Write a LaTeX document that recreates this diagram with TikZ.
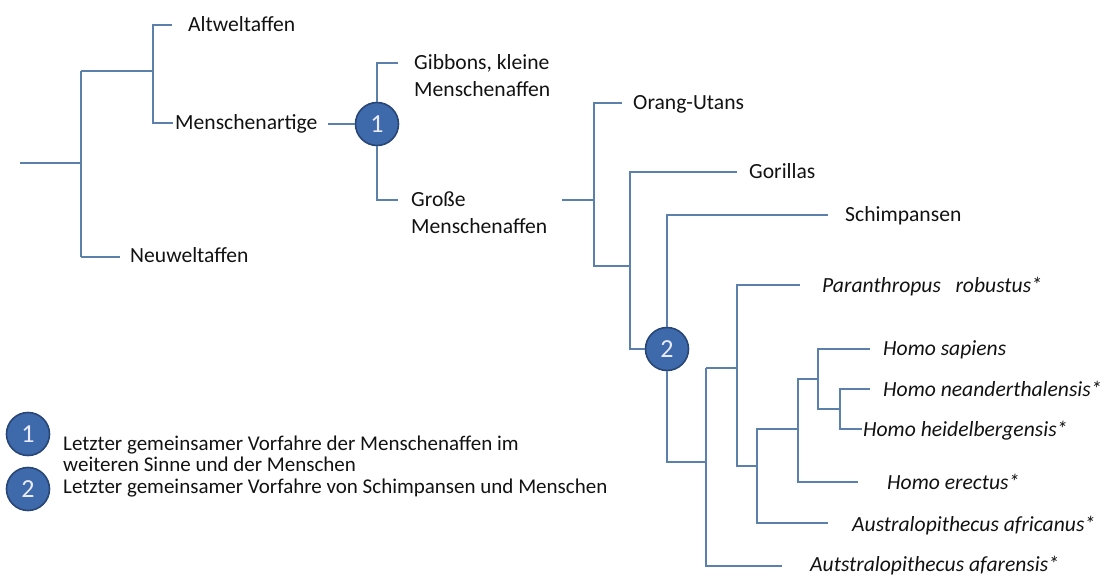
\documentclass[tikz,border=0pt]{standalone}
\usepackage{fontspec}
\setmainfont{Carlito}
\definecolor{brc}{RGB}{92,128,172}
\definecolor{circfill}{RGB}{62,106,172}
\definecolor{circdraw}{RGB}{40,70,118}
\definecolor{txt}{RGB}{18,18,18}
\newcommand\twolines[2]{\begin{tabular}[t]{@{}l@{}}#1\\#2\end{tabular}}
\tikzset{
  br/.style={draw=brc, line width=1.25pt},
  lbl/.style={anchor=west, inner sep=0pt, text height=14pt, text depth=0pt, text=txt,
    font=\fontsize{21.6}{27}\selectfont},
  ilbl/.style={lbl, font=\fontsize{21.6}{27}\selectfont\itshape},
  leg/.style={lbl, font=\fontsize{21}{21.5}\selectfont},
  anc/.style={circle, minimum size=43pt, inner sep=0pt, fill=circfill, draw=circdraw,
    line width=1.6pt, text=white!92!blue, font=\fontsize{26}{26}\selectfont}
}
\begin{document}
\begin{tikzpicture}[x=1pt,y=-1pt]
\useasboundingbox (0,0) rectangle (1105,577);

% ---------- labels ----------
\node[lbl] (alt) at (188,25) {Altweltaffen};
\node[lbl] (men) at (175,123) {Menschenartige};
\node[lbl] (neu) at (130,256) {Neuweltaffen};
\node[lbl] (gib) at (414,63) {\twolines{Gibbons, kleine}{Menschenaffen}};
\node[lbl] (gro) at (411,200) {\twolines{Große}{Menschenaffen}};
\node[lbl] (ora) at (633,103) {Orang-Utans};
\node[lbl] (gor) at (749,172) {Gorillas};
\node[lbl] (sch) at (845,215) {Schimpansen};
\node[ilbl] (par) at (822,285) {Paranthropus\ \ \ robustus*};
\node[ilbl] (sap) at (883,348) {Homo sapiens};
\node[ilbl] (nea) at (883,389) {Homo neanderthalensis*};
\node[ilbl] (hei) at (863,429) {Homo heidelbergensis*};
\node[ilbl] (ere) at (887,482) {Homo erectus*};
\node[ilbl] (afr) at (852,524) {Australopithecus africanus*};
\node[ilbl] (afa) at (810,564) {Autstralopithecus afarensis*};

% ---------- ancestor circles ----------
\node[anc] (c1) at (377,124) {1};
\node[anc] (c2) at (667,349) {2};

% ---------- left tree ----------
\coordinate (root) at (20,163);
\coordinate (n1) at (81,163);
\coordinate (n1t) at (81,71);
\coordinate (n1b) at (81,257);
\coordinate (n2) at (153,71);
\coordinate (altE) at (172,25);
\coordinate (menE) at (173,123);
\coordinate (neuE) at (120,257);
\draw[br] (root) -- (n1);
\draw[br] (n1t) -- (n1b);
\draw[br] (n1t) -- (n2);
\draw[br] (altE) -| (n2) |- (menE);
\draw[br] (n1b) -- (neuE);

% ---------- node 1 ----------
\coordinate (m1) at (328,124);
\coordinate (gibE) at (398,63);
\coordinate (groE) at (398,200);
\draw[br] (m1) -- (c1);
\draw[br] (gibE) -| (c1);
\draw[br] (groE) -| (c1);

% ---------- great apes ----------
\coordinate (g0) at (562,200);
\coordinate (g1) at (594,200);
\coordinate (oraE) at (622,103);
\coordinate (g1b) at (594,266);
\coordinate (g2b) at (630,266);
\coordinate (gorE) at (737,172);
\coordinate (g2c) at (630,349);
\coordinate (schE) at (828,215);
\draw[br] (g0) -- (g1);
\draw[br] (oraE) -| (g1b) -- (g2b);
\draw[br] (gorE) -| (g2c) -- (c2);
\draw[br] (schE) -| (c2);

% ---------- hominins ----------
\coordinate (h1) at (706,462);
\coordinate (afaE) at (782,566);
\coordinate (h1t) at (706,368);
\coordinate (h2) at (737,368);
\coordinate (parE) at (800,285);
\coordinate (h2b) at (737,466);
\coordinate (h3) at (757,466);
\coordinate (afrE) at (828,523);
\coordinate (h3t) at (757,429);
\coordinate (h4) at (798,429);
\coordinate (ereE) at (858,482);
\coordinate (h4t) at (798,379);
\coordinate (h5) at (818,379);
\coordinate (sapE) at (870,349);
\coordinate (h5b) at (818,409);
\coordinate (h6) at (840,409);
\coordinate (neaE) at (870,389);
\coordinate (heiE) at (862,429);
\draw[br] (c2) |- (h1);
\draw[br] (h1t) |- (afaE);
\draw[br] (h1t) -- (h2);
\draw[br] (parE) -| (h2b) -- (h3);
\draw[br] (afrE) -| (h3t) -- (h4);
\draw[br] (ereE) -| (h4t) -- (h5);
\draw[br] (sapE) -| (h5b) -- (h6);
\draw[br] (neaE) -| (h6) |- (heiE);

% ---------- legend ----------
\node[anc] (l1) at (28,434) {1};
\node[anc] (l2) at (28,489) {2};
\node[leg] (t1) at (63,443) {\twolines{Letzter gemeinsamer Vorfahre der Menschenaffen im}{weiteren Sinne und der Menschen}};
\node[leg] (t2) at (63,486) {Letzter gemeinsamer Vorfahre von Schimpansen und Menschen};
\end{tikzpicture}
\end{document}
